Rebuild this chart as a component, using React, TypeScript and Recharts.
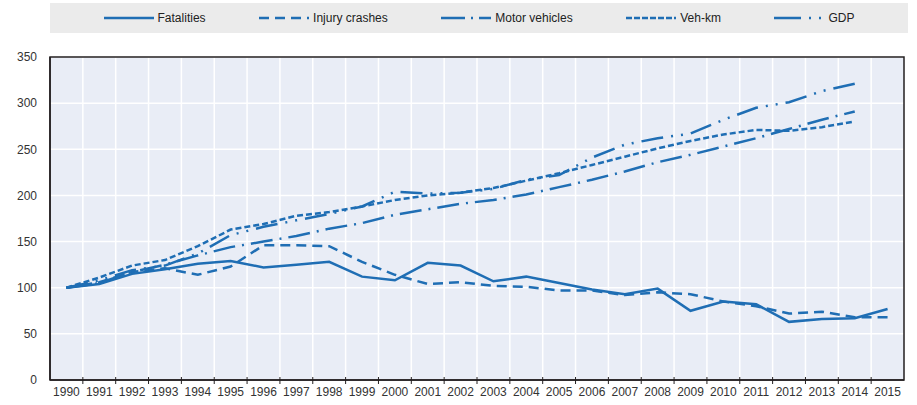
import { LineChart, Line, XAxis, YAxis, CartesianGrid, ReferenceArea } from 'recharts';

const years = [
  1990, 1991, 1992, 1993, 1994, 1995, 1996, 1997, 1998, 1999, 2000, 2001, 2002,
  2003, 2004, 2005, 2006, 2007, 2008, 2009, 2010, 2011, 2012, 2013, 2014, 2015,
];
const fatalities = [100, 104, 115, 120, 126, 129, 122, 125, 128, 112, 108, 127, 124, 107, 112, 105, 98, 93, 99, 75, 85, 82, 63, 66, 67, 77];
const injuryCrashes = [100, 106, 117, 121, 114, 123, 146, 146, 145, 128, 114, 104, 106, 102, 101, 97, 97, 92, 95, 93, 85, 80, 72, 74, 68, 68];
const motorVehicles = [100, 105, 117, 125, 135, 144, 150, 156, 164, 170, 179, 185, 191, 195, 201, 209, 217, 226, 236, 244, 253, 262, 272, 282, 291, null];
const vehKm = [100, 111, 124, 130, 145, 163, 169, 178, 182, 188, 195, 200, 203, 208, 216, 224, 233, 242, 251, 259, 266, 271, 270, 274, 280, null];
const gdp = [100, 108, 119, 124, 137, 157, 166, 173, 180, 188, 204, 202, 203, 207, 217, 222, 241, 255, 262, 267, 282, 295, 301, 313, 321, null];
const yTicks = [0, 50, 100, 150, 200, 250, 300, 350];

const BLUE = '#1f6eb4';
const INK = '#231f20';

const series = [
  { key: 'fatalities', name: 'Fatalities', dash: undefined, legendDash: undefined },
  { key: 'injury', name: 'Injury crashes', dash: '10 6', legendDash: '10 6' },
  { key: 'motor', name: 'Motor vehicles', dash: '22 7 2 7', legendDash: '24 6 2 6' },
  { key: 'vehkm', name: 'Veh-km', dash: '6 3', legendDash: '6 2' },
  { key: 'gdp', name: 'GDP', dash: '22 8 2 8 2 8', legendDash: '27 8 2 8 2 20' },
];

const data = years.map((year, i) => ({
  year,
  fatalities: fatalities[i],
  injury: injuryCrashes[i],
  motor: motorVehicles[i],
  vehkm: vehKm[i],
  gdp: gdp[i],
}));

// labels on whole years, small tick marks on the half-year band edges
const xTicks = years.flatMap((y) => (y < years[years.length - 1] ? [y, y + 0.5] : [y]));
const bandEdges = years.slice(0, -1).map((y) => y + 0.5);
const xDomain = [years[0] - 0.5, years[years.length - 1] + 0.5];

function YearTick(props: any) {
  const { x, y, payload } = props;
  const v = payload.value;
  if (v % 1 !== 0) {
    return <line x1={x} x2={x} y1={y - 3} y2={y + 4} stroke={INK} strokeWidth={1} />;
  }
  return (
    <text x={x} y={y + 16} textAnchor="middle" fontSize={12} fill="#333">
      {v}
    </text>
  );
}

function LegendBox() {
  return (
    <div
      style={{
        position: 'absolute', left: 50, top: 3, width: 858, height: 30,
        background: '#ebebeb', display: 'flex', alignItems: 'center', justifyContent: 'space-evenly',
        fontSize: 12, color: '#222',
      }}
    >
      {series.map((s) => (
        <div key={s.key} style={{ display: 'flex', alignItems: 'center', gap: 4 }}>
          <svg width={50} height={6}>
            <line x1={0} x2={50} y1={3} y2={3} stroke={BLUE} strokeWidth={2.5} strokeDasharray={s.legendDash} />
          </svg>
          <span>{s.name}</span>
        </div>
      ))}
    </div>
  );
}

export default function App() {
  return (
    <div
      style={{
        position: 'absolute', left: 0, top: 0, width: 917, height: 405,
        fontFamily: 'Arial, "Liberation Sans", sans-serif', background: '#fff',
      }}
    >
      <LegendBox />
      <LineChart width={917} height={405} data={data} margin={{ top: 57, right: 13, bottom: 0, left: 0 }}>
        <CartesianGrid
          fill="#e9edf6"
          stroke="#ffffff"
          strokeWidth={1.5}
          verticalCoordinatesGenerator={({ offset }: any) =>
            bandEdges.map((e) => offset.left + ((e - xDomain[0]) / (xDomain[1] - xDomain[0])) * offset.width)
          }
        />
        <XAxis
          dataKey="year"
          type="number"
          domain={xDomain}
          ticks={xTicks}
          interval={0}
          tick={<YearTick />}
          tickLine={false}
          tickSize={0}
          tickMargin={0}
          height={25}
          axisLine={{ stroke: INK, strokeWidth: 1.5 }}
        />
        <YAxis
          domain={[0, 350]}
          ticks={yTicks}
          interval={0}
          width={50}
          tickLine={false}
          tickSize={0}
          tickMargin={13}
          tick={{ fontSize: 12, fill: '#333' }}
          axisLine={{ stroke: INK, strokeWidth: 1.5 }}
        />
        <ReferenceArea x1={xDomain[0]} x2={xDomain[1]} y1={0} y2={350} fill="none" stroke={INK} strokeWidth={1.5} />
        {series.map((s) => (
          <Line
            key={s.key}
            dataKey={s.key}
            name={s.name}
            type="linear"
            stroke={BLUE}
            strokeWidth={2.5}
            strokeDasharray={s.dash}
            dot={false}
            activeDot={false}
            isAnimationActive={false}
          />
        ))}
      </LineChart>
    </div>
  );
}
